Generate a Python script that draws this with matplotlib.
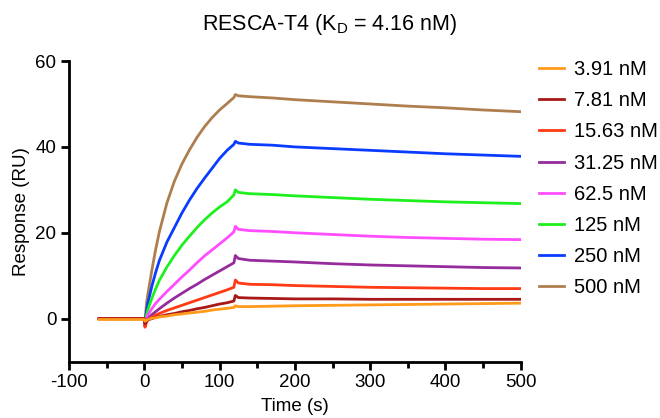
import numpy as np
import matplotlib
matplotlib.use("Agg")
import matplotlib.pyplot as plt
from matplotlib.ticker import MultipleLocator

plt.rcParams['font.family'] = ['Liberation Sans', 'DejaVu Sans']
plt.rcParams['axes.unicode_minus'] = False

# ─── Data ────────────────────────────────────────────────────────────────────
time_s = [-60, -30, 0, 1, 3, 5, 10, 15, 20, 30, 40, 50, 60, 70, 80, 90, 100, 110,
          119, 121, 125, 140, 170, 200, 250, 300, 350, 400, 450, 500]

conc_labels = ["3.91 nM", "7.81 nM", "15.63 nM", "31.25 nM",
               "62.5 nM", "125 nM", "250 nM", "500 nM"]

resp_3_91 = [-0.2, -0.2, -0.2, -0.6, -0.4, -0.2, 0.1, 0.2, 0.4, 0.6, 0.9, 1.1, 1.3, 1.5, 1.7,
             2.0, 2.2, 2.4, 2.6, 3.0, 2.8, 2.8, 2.9, 3.0, 3.1, 3.2, 3.3, 3.4, 3.5, 3.6]
resp_7_81 = [0, 0, 0, -1.2, -0.6, -0.3, 0.0, 0.3, 0.5, 0.9, 1.2, 1.6, 1.9, 2.3, 2.6,
             3.0, 3.4, 3.7, 4.1, 5.4, 4.9, 4.8, 4.7, 4.6, 4.6, 4.5, 4.5, 4.5, 4.5, 4.5]
resp_15_63 = [0, 0, 0, -2.0, -0.8, -0.3, 0.3, 0.8, 1.2, 1.9, 2.5, 3.1, 3.7, 4.3, 4.9,
              5.5, 6.1, 6.7, 7.3, 9.0, 8.3, 8.0, 7.9, 7.7, 7.5, 7.3, 7.2, 7.1, 7.0, 7.0]
resp_31_25 = [0, 0, 0, -1.8, -0.6, 0.0, 0.9, 1.6, 2.3, 3.6, 4.8, 5.9, 7.0, 8.0, 9.1,
              10.1, 11.1, 12.1, 13.0, 14.7, 14.0, 13.6, 13.4, 13.2, 12.8, 12.5, 12.3, 12.1, 11.9, 11.8]
resp_62_5 = [0, 0, 0, -1.2, 0.0, 0.9, 2.3, 3.5, 4.5, 6.3, 8.0, 9.7, 11.3, 13.0, 14.6,
             16.0, 17.4, 18.8, 20.2, 21.5, 20.8, 20.5, 20.3, 20.0, 19.6, 19.2, 18.9, 18.7, 18.5, 18.4]
resp_125 = [0, 0, 0, -1.0, 0.8, 2.2, 4.7, 6.9, 8.9, 12.0, 14.7, 17.1, 19.2, 21.2, 23.0,
            24.6, 26.0, 27.2, 28.8, 30.0, 29.4, 29.1, 28.9, 28.6, 28.2, 27.8, 27.5, 27.2, 27.0, 26.8]
resp_250 = [0, 0, 0, -0.8, 1.8, 3.8, 7.5, 10.7, 13.5, 17.8, 21.2, 24.6, 27.6, 30.3, 32.7,
            35.0, 37.3, 39.2, 40.6, 41.3, 40.9, 40.6, 40.4, 40.0, 39.6, 39.2, 38.8, 38.4, 38.1, 37.8]
resp_500 = [0, 0, 0, -0.5, 3.6, 5.9, 11.2, 16.0, 20.2, 26.9, 32.0, 36.0, 39.3, 42.2, 44.7,
            46.8, 48.6, 50.1, 51.5, 52.2, 51.9, 51.7, 51.4, 51.0, 50.5, 50.0, 49.5, 49.1, 48.6, 48.2]

responses = [resp_3_91, resp_7_81, resp_15_63, resp_31_25,
             resp_62_5, resp_125, resp_250, resp_500]
colors = ["#FF9A1A", "#A81818", "#FF3A14", "#962C9C",
          "#FF4DFF", "#1EF01E", "#0A3CFF", "#AE7E4E"]

# ─── Figure ──────────────────────────────────────────────────────────────────
fig = plt.figure(figsize=(6.6, 4.18), dpi=100, facecolor='white')
ax = fig.add_axes([0.1045, 0.135, 0.6845, 0.719])

handles = [None] * len(responses)
for i in reversed(range(len(responses))):
    h, = ax.plot(time_s, responses[i], color=colors[i], lw=2.0,
                 solid_joinstyle='round', label=conc_labels[i])
    handles[i] = h

ax.set_xlim(-100, 500)
ax.set_ylim(-10, 60)
ax.xaxis.set_major_locator(MultipleLocator(100))
ax.xaxis.set_minor_locator(MultipleLocator(50))
ax.yaxis.set_major_locator(MultipleLocator(20))

for side in ['top', 'right']:
    ax.spines[side].set_visible(False)
for side in ['left', 'bottom']:
    ax.spines[side].set_linewidth(2.0)
ax.tick_params(which='major', length=6, width=2.0, labelsize=13.5, pad=3)
ax.tick_params(which='minor', length=4, width=2.0)

ax.set_xlabel("Time (s)", fontsize=13.5, labelpad=5)
ax.set_ylabel("Response (RU)", fontsize=13.5, labelpad=4)
fig.suptitle(r"RESCA-T4 (K$_\mathregular{D}$ = 4.16 nM)", fontsize=15.5, x=0.5, y=0.972)

ax.legend(handles=handles, loc='upper left', bbox_to_anchor=(0.805, 0.875),
          bbox_transform=fig.transFigure, frameon=False, fontsize=14.5,
          handlelength=1.2, handletextpad=0.5, labelspacing=0.6, borderaxespad=0)

plt.savefig("out.png", dpi=100)
